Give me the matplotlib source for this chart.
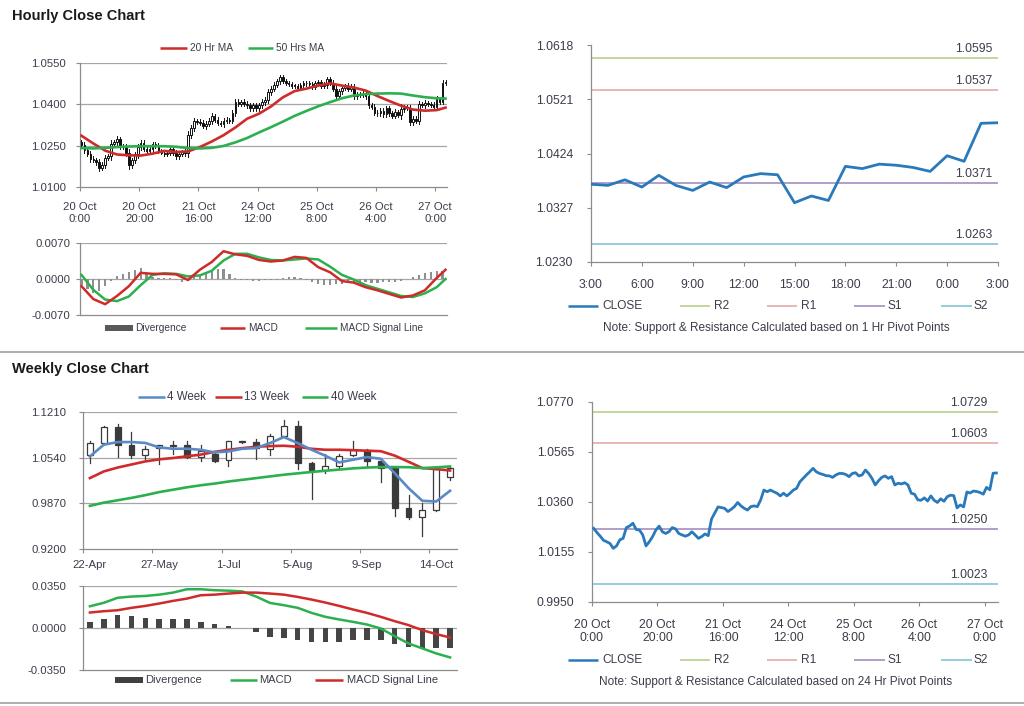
# Hourly / weekly close charts with MACD and pivot levels

import numpy as np
import matplotlib
matplotlib.use('Agg')
import matplotlib.pyplot as plt
from matplotlib.patches import Rectangle

plt.rcParams['font.family'] = ['Liberation Sans', 'DejaVu Sans']

# === Hourly data (20 Oct 0:00 -> 27 Oct 3:00) ===
hour_close = [
    1.0252, 1.0235, 1.0220, 1.0203, 1.0197, 1.0190, 1.0170, 1.0180, 1.0205, 1.0211,
    1.0255, 1.0262, 1.0273, 1.0247, 1.0245, 1.0225, 1.0180, 1.0197, 1.0218, 1.0245,
    1.0261, 1.0238, 1.0231, 1.0238, 1.0255, 1.0250, 1.0231, 1.0225, 1.0220, 1.0225,
    1.0238, 1.0225, 1.0211, 1.0218, 1.0229, 1.0222, 1.0290, 1.0315, 1.0340, 1.0337,
    1.0334, 1.0321, 1.0330, 1.0341, 1.0358, 1.0344, 1.0334, 1.0327, 1.0341, 1.0344,
    1.0341, 1.0368, 1.0409, 1.0402, 1.0409, 1.0402, 1.0396, 1.0385, 1.0396, 1.0385,
    1.0396, 1.0409, 1.0416, 1.0443, 1.0457, 1.0471, 1.0484, 1.0498, 1.0484, 1.0477,
    1.0473, 1.0468, 1.0467, 1.0461, 1.0471, 1.0477, 1.0477, 1.0473, 1.0464, 1.0477,
    1.0480, 1.0467, 1.0471, 1.0491, 1.0477, 1.0457, 1.0430, 1.0447, 1.0461, 1.0467,
    1.0457, 1.0464, 1.0430, 1.0437, 1.0434, 1.0439, 1.0430, 1.0396, 1.0392,
    1.0369, 1.0367, 1.0377, 1.0364, 1.0385, 1.0367, 1.0358, 1.0373, 1.0363, 1.0382,
    1.0388, 1.0386, 1.0336, 1.0348, 1.0340, 1.0401, 1.0397, 1.0405, 1.0403, 1.0399,
    1.0392, 1.0420, 1.0410, 1.0478, 1.0479,
]
hour_first_open = 1.0262
hour_wick = [
    0.0010, 0.0012, 0.0009, 0.0011, 0.0008, 0.0010, 0.0012, 0.0009, 0.0011, 0.0008,
    0.0014, 0.0010, 0.0012, 0.0009, 0.0008, 0.0011, 0.0013, 0.0010, 0.0009, 0.0011,
    0.0010, 0.0008, 0.0009, 0.0007, 0.0010, 0.0008, 0.0009, 0.0007, 0.0008, 0.0009,
    0.0008, 0.0009, 0.0010, 0.0008, 0.0007, 0.0009, 0.0012, 0.0011, 0.0010, 0.0008,
    0.0009, 0.0008, 0.0010, 0.0009, 0.0011, 0.0008, 0.0009, 0.0007, 0.0008, 0.0009,
    0.0008, 0.0010, 0.0011, 0.0009, 0.0008, 0.0009, 0.0010, 0.0008, 0.0009, 0.0010,
    0.0008, 0.0009, 0.0010, 0.0011, 0.0009, 0.0010, 0.0009, 0.0010, 0.0008, 0.0007,
    0.0008, 0.0007, 0.0006, 0.0008, 0.0007, 0.0008, 0.0009, 0.0007, 0.0008, 0.0009,
    0.0008, 0.0007, 0.0009, 0.0010, 0.0008, 0.0010, 0.0012, 0.0010, 0.0009, 0.0008,
    0.0009, 0.0008, 0.0011, 0.0009, 0.0008, 0.0009, 0.0010, 0.0011, 0.0009, 0.0008,
    0.0009, 0.0008, 0.0009, 0.0010, 0.0009, 0.0008, 0.0009, 0.0008, 0.0018, 0.0009,
    0.0008, 0.0012, 0.0010, 0.0009, 0.0010, 0.0008, 0.0009, 0.0008, 0.0007, 0.0008,
    0.0009, 0.0008, 0.0010, 0.0009,
]
hour_tick_pos = [0, 20, 40, 60, 80, 100, 120]
hour_tick_lbl = ['20 Oct\n0:00', '20 Oct\n20:00', '21 Oct\n16:00', '24 Oct\n12:00',
                 '25 Oct\n8:00', '26 Oct\n4:00', '27 Oct\n0:00']

# moving averages / MACD sampled every 4 hours
ma_idx = [0, 4, 8, 12, 16, 20, 24, 28, 32, 36, 40, 44, 48, 52, 56, 60,
          64, 68, 72, 76, 80, 84, 88, 92, 96, 100, 104, 108, 112, 116, 120, 123]
ma20 = [1.0286, 1.0258, 1.0232, 1.0218, 1.0215, 1.0214, 1.0221, 1.0231, 1.0227, 1.0229,
        1.0245, 1.0265, 1.0288, 1.0316, 1.0348, 1.0366, 1.0392, 1.0425, 1.0448, 1.0457,
        1.0468, 1.0476, 1.0468, 1.0461, 1.0450, 1.0430, 1.0412, 1.0395, 1.0381, 1.0377,
        1.0379, 1.0388]
ma50 = [1.0241, 1.0240, 1.0242, 1.0245, 1.0247, 1.0248, 1.0248, 1.0248, 1.0246, 1.0241,
        1.0240, 1.0242, 1.0249, 1.0262, 1.0278, 1.0298, 1.0317, 1.0337, 1.0358, 1.0376,
        1.0393, 1.0408, 1.0422, 1.0432, 1.0437, 1.0439, 1.0440, 1.0439, 1.0432, 1.0426,
        1.0422, 1.0421]
h_macd = [-0.0014, -0.0039, -0.0049, -0.0033, -0.0014, 0.0012, 0.0010, 0.0010, 0.0009, -0.0002,
          0.0018, 0.0033, 0.0054, 0.0048, 0.0045, 0.0037, 0.0034, 0.0036, 0.0043, 0.0041,
          0.0023, 0.0013, -0.0004, -0.0007, -0.0016, -0.0022, -0.0029, -0.0036, -0.0032, -0.0022,
          0.0002, 0.0018]
h_signal = [0.0008, -0.0021, -0.0040, -0.0043, -0.0034, -0.0012, 0.0008, 0.0011, 0.0010, 0.0005,
            0.0007, 0.0016, 0.0036, 0.0049, 0.0049, 0.0042, 0.0037, 0.0036, 0.0038, 0.0040,
            0.0038, 0.0024, 0.0008, -0.0001, -0.0012, -0.0019, -0.0026, -0.0033, -0.0035, -0.0028,
            -0.0016, 0.0000]
div_idx = list(range(0, 124, 2))
h_div = [-0.0012, -0.0020, -0.0027, -0.0024, -0.0014, -0.0004, 0.0005, 0.0010, 0.0014, 0.0017,
         0.0022, 0.0012, 0.0003, 0.0002, 0.0001, 0.0002, -0.0002, -0.0005, -0.0004, 0.0004,
         0.0008, 0.0012, 0.0015, 0.0019, 0.0020, 0.0010, 0.0001, -0.0001, -0.0002, -0.0003,
         -0.0003, -0.0002, -0.0002, -0.0001, 0.0002, 0.0004, 0.0003, 0.0001, -0.0002, -0.0006,
         -0.0010, -0.0011, -0.0011, -0.0010, -0.0010, -0.0008, -0.0006, -0.0006, -0.0006, -0.0007,
         -0.0007, -0.0006, -0.0006, -0.0005, -0.0004, 0.0000, 0.0004, 0.0008, 0.0011, 0.0013,
         0.0015, 0.0015]

# 1 Hr pivots (last 25 hourly closes)
h_piv_lbl = ['3:00', '6:00', '9:00', '12:00', '15:00', '18:00', '21:00', '0:00', '3:00']
h_pivots = {'R2': 1.0595, 'R1': 1.0537, 'S1': 1.0371, 'S2': 1.0263}
d_pivots = {'R2': 1.0729, 'R1': 1.0603, 'S1': 1.0250, 'S2': 1.0023}

# === Weekly data (22-Apr -> 21-Oct) ===
week_lbl = ['22-Apr', '27-May', '1-Jul', '5-Aug', '9-Sep', '14-Oct']
week_open = [1.0583, 1.0754, 1.0985, 1.0720, 1.0583, 1.0681, 1.0725, 1.0730, 1.0549, 1.0598,
             1.0510, 1.0779, 1.0764, 1.0671, 1.0862, 1.1009, 1.0460, 1.0352, 1.0421, 1.0583,
             1.0656, 1.0485, 1.0387, 0.9799, 0.9666, 0.9774, 1.0255]
week_close = [1.0754, 1.0985, 1.0720, 1.0583, 1.0671, 1.0720, 1.0715, 1.0549, 1.0642, 1.0495,
              1.0779, 1.0765, 1.0681, 1.0852, 1.1009, 1.0460, 1.0362, 1.0421, 1.0568, 1.0647,
              1.0495, 1.0387, 0.9799, 0.9666, 0.9774, 1.0372, 1.0387]
week_high = [1.0779, 1.1000, 1.1034, 1.0911, 1.0705, 1.0730, 1.0789, 1.0779, 1.0730, 1.0632,
             1.0789, 1.0789, 1.0813, 1.0887, 1.1088, 1.1073, 1.0470, 1.0598, 1.0598, 1.0779,
             1.0671, 1.0510, 1.0397, 0.9995, 0.9882, 1.0387, 1.0402]
week_low = [1.0460, 1.0745, 1.0549, 1.0534, 1.0524, 1.0446, 1.0598, 1.0534, 1.0485, 1.0475,
            1.0411, 1.0754, 1.0524, 1.0583, 1.0842, 1.0372, 0.9931, 1.0313, 1.0387, 1.0568,
            1.0421, 1.0176, 0.9686, 0.9637, 0.9392, 0.9764, 1.0206]
ma4 = [1.0558, 1.0730, 1.0769, 1.0769, 1.0756, 1.0690, 1.0671, 1.0671, 1.0656, 1.0617,
       1.0632, 1.0671, 1.0681, 1.0754, 1.0842, 1.0754, 1.0656, 1.0568, 1.0470, 1.0510,
       1.0549, 1.0524, 1.0313, 1.0093, 0.9907, 0.9897, 1.0054]
ma13 = [1.0240, 1.0338, 1.0395, 1.0440, 1.0485, 1.0515, 1.0535, 1.0560, 1.0585, 1.0625,
        1.0655, 1.0680, 1.0700, 1.0710, 1.0715, 1.0700, 1.0670, 1.0656, 1.0656, 1.0650,
        1.0642, 1.0635, 1.0570, 1.0480, 1.0387, 1.0372, 1.0352]
ma40 = [0.9833, 0.9880, 0.9915, 0.9950, 0.9990, 1.0035, 1.0070, 1.0105, 1.0135, 1.0160,
        1.0190, 1.0215, 1.0240, 1.0265, 1.0290, 1.0310, 1.0330, 1.0348, 1.0365, 1.0383,
        1.0395, 1.0402, 1.0402, 1.0400, 1.0387, 1.0398, 1.0411]
w_macd = [0.0181, 0.0210, 0.0252, 0.0262, 0.0267, 0.0278, 0.0295, 0.0323, 0.0323, 0.0315,
          0.0311, 0.0305, 0.0262, 0.0209, 0.0190, 0.0168, 0.0126, 0.0093, 0.0071, 0.0051,
          0.0029, -0.0004, -0.0068, -0.0129, -0.0170, -0.0212, -0.0245]
w_signal = [0.0129, 0.0140, 0.0148, 0.0168, 0.0184, 0.0204, 0.0226, 0.0245, 0.0273, 0.0278,
            0.0287, 0.0295, 0.0295, 0.0287, 0.0278, 0.0259, 0.0237, 0.0212, 0.0184, 0.0154,
            0.0126, 0.0093, 0.0057, 0.0024, -0.0018, -0.0051, -0.0079]
w_div = [0.0051, 0.0071, 0.0107, 0.0098, 0.0087, 0.0079, 0.0071, 0.0071, 0.0054, 0.0037,
         0.0018, -0.0004, -0.0032, -0.0079, -0.0087, -0.0096, -0.0115, -0.0120, -0.0120, -0.0101,
         -0.0101, -0.0101, -0.0134, -0.0162, -0.0179, -0.0170, -0.0170]

# === Colours ===
RED = '#cf2b2b'
GREEN = '#2cb04f'
BLUE4 = '#5a8ac6'
CLOSE_C = '#2a79bb'
PIV_C = {'R2': '#c3d69b', 'R1': '#e8b7b6', 'S1': '#b09fc9', 'S2': '#92cddc'}
AX_C = '#8c8c8c'
GRID_C = '#a6a6a6'
TXT = '#3c3c4a'

W, H = 1024, 706
fig = plt.figure(figsize=(W / 100, H / 100), dpi=100)


def px_axes(l, t, r, b):
    return fig.add_axes([l / W, 1 - b / H, (r - l) / W, (b - t) / H])


def style(ax, fs, grid=None, ypad=6, xpad=6):
    for s in ['top', 'right']:
        ax.spines[s].set_visible(False)
    for s in ['left', 'bottom']:
        ax.spines[s].set_color(AX_C)
        ax.spines[s].set_linewidth(0.9)
    ax.tick_params(axis='both', colors=AX_C, labelcolor=TXT, labelsize=fs,
                   length=3, width=0.8, direction='out')
    ax.tick_params(axis='y', pad=ypad)
    ax.tick_params(axis='x', pad=xpad)
    if grid:
        for g in grid:
            ax.axhline(g, color=GRID_C, lw=0.9, zorder=0)


def candles(ax, xs, o, hi, lo, c, width, col, lw, min_h):
    for x, oo, hh, ll, cc in zip(xs, o, hi, lo, c):
        ax.plot([x, x], [ll, hh], color=col, lw=lw, zorder=3)
        fc = 'white' if cc >= oo else col
        ax.add_patch(Rectangle((x - width / 2, min(oo, cc)), width, max(abs(cc - oo), min_h),
                               facecolor=fc, edgecolor=col, lw=lw, zorder=4))


n_h = len(hour_close)
hx = np.arange(n_h) + 0.5
hour_open = [hour_first_open] + hour_close[:-1]
hour_high = [max(o, c) + w for o, c, w in zip(hour_open, hour_close, hour_wick)]
hour_low = [min(o, c) - w for o, c, w in zip(hour_open, hour_close, hour_wick)]

# === Hourly candle chart ===
ax1 = px_axes(80, 63, 447, 187)
style(ax1, 8.2, grid=[1.0250, 1.0400, 1.0550], ypad=7, xpad=8)
candles(ax1, hx, hour_open, hour_high, hour_low, hour_close, 0.55, '#111111', 0.7, 0.0002)
ax1.plot(np.array(ma_idx) + 0.5, ma20, color=RED, lw=1.9, zorder=5)
ax1.plot(np.array(ma_idx) + 0.5, ma50, color=GREEN, lw=1.9, zorder=5)
ax1.set_xlim(0, n_h)
ax1.set_ylim(1.0100, 1.0550)
ax1.set_yticks([1.0100, 1.0250, 1.0400, 1.0550], ['1.0100', '1.0250', '1.0400', '1.0550'])
ax1.set_xticks(hour_tick_pos, hour_tick_lbl)

# === Hourly MACD ===
ax2 = px_axes(80, 243, 447, 315)
style(ax2, 8.2, grid=[0.0, 0.0070], ypad=4)
ax2.bar(np.array(div_idx) + 0.5, h_div, width=0.75, color='#8f8f8f', zorder=2)
ax2.plot(np.array(ma_idx) + 0.5, h_macd, color=RED, lw=1.8, zorder=4)
ax2.plot(np.array(ma_idx) + 0.5, h_signal, color=GREEN, lw=1.8, zorder=3)
ax2.set_xlim(0, n_h)
ax2.set_ylim(-0.0070, 0.0070)
ax2.set_yticks([-0.0070, 0.0, 0.0070], ['-0.0070', '0.0000', '0.0070'])
ax2.set_xticks([])

# === 1 Hr pivot chart ===
last = hour_close[-25:]
ax3 = px_axes(591, 45, 998, 262)
style(ax3, 8.8, ypad=10, xpad=9)
for k in ['R2', 'R1', 'S1', 'S2']:
    ax3.axhline(h_pivots[k], color=PIV_C[k], lw=1.4, zorder=2)
    ax3.annotate(f'{h_pivots[k]:.4f}', xy=(0.987, h_pivots[k]), xycoords=ax3.get_yaxis_transform(),
                 xytext=(0, 6.5), textcoords='offset points', ha='right', va='center',
                 fontsize=8.8, color=TXT)
ax3.plot(np.arange(len(last)), last, color=CLOSE_C, lw=2.0, zorder=4)
ax3.set_xlim(0, 24)
ax3.set_ylim(1.0230, 1.0618)
ax3.set_yticks([1.0230, 1.0327, 1.0424, 1.0521, 1.0618],
               ['1.0230', '1.0327', '1.0424', '1.0521', '1.0618'])
ax3.set_xticks(range(0, 25, 3), h_piv_lbl)

# === Weekly candle chart ===
n_w = len(week_close)
wx = np.arange(n_w) + 0.5
ax4 = px_axes(83, 412, 457, 549)
style(ax4, 8.2, grid=[0.9870, 1.0540, 1.1210], ypad=9, xpad=5)
candles(ax4, wx, week_open, week_high, week_low, week_close, 0.42, '#3a3a3a', 0.9, 0.0015)
ax4.plot(wx, ma13, color=RED, lw=1.9, zorder=5)
ax4.plot(wx, ma40, color=GREEN, lw=1.9, zorder=5)
ax4.plot(wx, ma4, color=BLUE4, lw=1.9, zorder=6)
ax4.set_xlim(0, n_w)
ax4.set_ylim(0.9200, 1.1210)
ax4.set_yticks([0.9200, 0.9870, 1.0540, 1.1210], ['0.9200', '0.9870', '1.0540', '1.1210'])
ax4.set_xticks([0, 5, 10, 15, 20, 25], [])
ax4.set_xticks([0.5, 5.5, 10.5, 15.5, 20.5, 25.5], week_lbl, minor=True)
ax4.tick_params(axis='x', which='minor', length=0, labelsize=8.2, labelcolor=TXT, pad=8)

# === Weekly MACD ===
ax5 = px_axes(83, 586, 457, 670)
style(ax5, 8.2, grid=[0.0, 0.0350], ypad=9)
ax5.bar(wx, w_div, width=0.4, color='#454545', zorder=2)
ax5.plot(wx, w_macd, color=GREEN, lw=1.8, zorder=3)
ax5.plot(wx, w_signal, color=RED, lw=1.8, zorder=4)
ax5.set_xlim(0, n_w)
ax5.set_ylim(-0.0350, 0.0350)
ax5.set_yticks([-0.0350, 0.0, 0.0350], ['-0.0350', '0.0000', '0.0350'])
ax5.set_xticks([])

# === 24 Hr pivot chart (hourly closes) ===
ax6 = px_axes(592, 402, 998, 602)
style(ax6, 8.8, ypad=10, xpad=9)
for k in ['R2', 'R1', 'S1', 'S2']:
    ax6.axhline(d_pivots[k], color=PIV_C[k], lw=1.4, zorder=2)
    ax6.annotate(f'{d_pivots[k]:.4f}', xy=(0.974, d_pivots[k]), xycoords=ax6.get_yaxis_transform(),
                 xytext=(0, 6.5), textcoords='offset points', ha='right', va='center',
                 fontsize=8.8, color=TXT)
ax6.plot(hx, hour_close, color=CLOSE_C, lw=2.0, zorder=4)
ax6.set_xlim(0, n_h)
ax6.set_ylim(0.9950, 1.0770)
ax6.set_yticks([0.9950, 1.0155, 1.0360, 1.0565, 1.0770],
               ['0.9950', '1.0155', '1.0360', '1.0565', '1.0770'])
ax6.set_xticks(hour_tick_pos, hour_tick_lbl)

# === Titles, legends, separators (pixel overlay) ===
ov = fig.add_axes([0, 0, 1, 1], zorder=10)
ov.set_xlim(0, W)
ov.set_ylim(H, 0)
ov.axis('off')

ov.text(12, 16, 'Hourly Close Chart', fontsize=10.5, fontweight='bold', color='#1a1a1a', va='center')
ov.text(12, 369, 'Weekly Close Chart', fontsize=10.5, fontweight='bold', color='#1a1a1a', va='center')
ov.plot([0, W], [352, 352], color='#a0a0a0', lw=1.2)
ov.plot([0, W], [703, 703], color='#a0a0a0', lw=1.2)


def leg_line(x0, x1, y, color, lw=1.8):
    ov.plot([x0, x1], [y, y], color=color, lw=lw, solid_capstyle='butt')


def leg_text(x, y, s, fs):
    ov.text(x, y, s, fontsize=fs, color=TXT, va='center', ha='left')


def leg_box(x0, x1, y, color):
    ov.add_patch(Rectangle((x0, y - 3), x1 - x0, 6, facecolor=color, edgecolor='none'))


# hourly candle legend
leg_line(160, 187, 48, RED)
leg_text(190, 48, '20 Hr MA', 7.3)
leg_line(248, 273, 48, GREEN)
leg_text(276, 48, '50 Hrs MA', 7.3)
# hourly MACD legend
leg_box(105, 133, 328, '#595959')
leg_text(135, 328, 'Divergence', 7.3)
leg_line(220, 245, 328, RED)
leg_text(248, 328, 'MACD', 7.3)
leg_line(305, 337, 328, GREEN)
leg_text(340, 328, 'MACD Signal Line', 7.3)
# weekly candle legend
leg_line(138, 165, 397, BLUE4)
leg_text(167, 397, '4 Week', 8.3)
leg_line(215, 242, 397, RED)
leg_text(244, 397, '13 Week', 8.3)
leg_line(302, 328, 397, GREEN)
leg_text(331, 397, '40 Week', 8.3)
# weekly MACD legend
leg_box(115, 143, 680, '#404040')
leg_text(145, 680, 'Divergence', 8.0)
leg_line(230, 257, 680, GREEN)
leg_text(259, 680, 'MACD', 8.0)
leg_line(315, 343, 680, RED)
leg_text(347, 680, 'MACD Signal Line', 8.0)

# pivot legends
for y, note in [(306, 'Note: Support & Resistance Calculated based on 1 Hr Pivot Points'),
                (660, 'Note: Support & Resistance Calculated based on 24 Hr Pivot Points')]:
    leg_line(568, 598, y, CLOSE_C, 1.8)
    leg_text(602, y, 'CLOSE', 8.6)
    leg_line(680, 710, y, PIV_C['R2'], 1.4)
    leg_text(714, y, 'R2', 8.6)
    leg_line(767, 797, y, PIV_C['R1'], 1.4)
    leg_text(801, y, 'R1', 8.6)
    leg_line(854, 885, y, PIV_C['S1'], 1.4)
    leg_text(888, y, 'S1', 8.6)
    leg_line(941, 972, y, PIV_C['S2'], 1.4)
    leg_text(974, y, 'S2', 8.6)
    ov.text(776, y + 22, note, fontsize=8.5, color=TXT, va='center', ha='center')

fig.savefig('out.png', dpi=100, facecolor='white')
